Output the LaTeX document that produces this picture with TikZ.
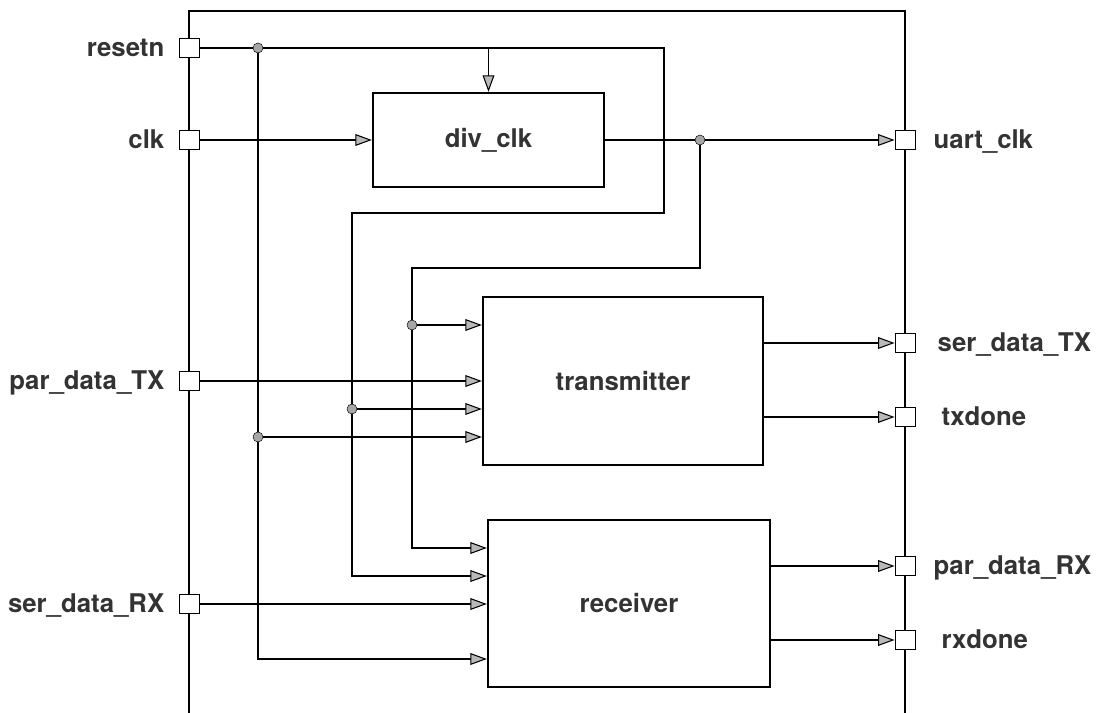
\documentclass[tikz,border=0pt]{standalone}
\usepackage{fontspec}
\setmainfont{TeX Gyre Heros}
\usetikzlibrary{arrows.meta,positioning}

\begin{document}
\begin{tikzpicture}[x=0.03cm,y=-0.03cm,
    >={Triangle[length=14pt,width=10pt,fill=gray!55]},
    port/.style={draw,fill=white,minimum width=0.6cm,minimum height=0.57cm,inner sep=0pt,line width=0.8pt},
    blk/.style={draw,line width=2pt,font=\bfseries\fontsize{22}{25}\selectfont,text=black!80},
    lbl/.style={font=\bfseries\fontsize{22}{25}\selectfont,text=black!80,inner sep=0pt,text height=14.8pt,text depth=0pt},
    sig/.style={line width=0.9pt},
    jn/.style={circle,fill=gray!70,draw=black,inner sep=0pt,minimum size=0.3cm}]
    \useasboundingbox (0,0) rectangle (1099,713);

    % module frame
    \draw[line width=1.2pt] (189,713) -- (189,11) -- (905,11) -- (905,713);

    % ports
    \node[port] (resetn) at (189,48) {};
    \node[port] (clk) at (189,140) {};
    \node[port] (ptx) at (189,381) {};
    \node[port] (srx) at (189,604) {};
    \node[port] (uclk) at (905,140) {};
    \node[port] (stx) at (905,343) {};
    \node[port] (txd) at (905,417) {};
    \node[port] (prx) at (905,566) {};
    \node[port] (rxd) at (905,640) {};
    \foreach \p/\t in {resetn/resetn, clk/clk, ptx/par\_data\_TX, srx/ser\_data\_RX} {
        \node[lbl,left=0.42cm of \p] (\p-l) {\t};
    }
    \foreach \p/\t/\d in {uclk/uart\_clk/0.54, stx/ser\_data\_TX/0.66, txd/txdone/0.78, prx/par\_data\_RX/0.54, rxd/rxdone/0.78} {
        \node[lbl,right=\d cm of \p] (\p-l) {\t};
    }

    % blocks
    \node[blk,minimum width=6.93cm,minimum height=2.82cm] (div) at (488.5,140) {div\_clk};
    \node[blk,minimum width=8.4cm,minimum height=5.04cm] (tx) at (623,381) {transmitter};
    \node[blk,minimum width=8.46cm,minimum height=5.01cm] (rx) at (629,603.5) {receiver};

    % junctions and bends
    \coordinate (j1) at (258,48);
    \coordinate (j2) at (700,140);
    \coordinate (j3) at (412,325);
    \coordinate (j4) at (352,409);
    \coordinate (j5) at (258,437);
    \coordinate (rloop) at (664,213);
    \coordinate (cloop) at (700,268);

    % clock
    \draw[sig,->] (clk) -- (div);
    \draw[sig] (div) -- (j2);
    \draw[sig,->] (j2) -- (uclk);
    \draw[sig] (j2) -- (cloop) -| (j3);
    \draw[sig,->] (j3) -- (tx.west |- j3);
    \draw[sig,->] (j3) |- (rx.west |- 0,548);

    % reset
    \draw[sig] (resetn) -- (j1);
    \draw[sig] (j1) -| (rloop) -| (j4);
    \draw[sig,->] (div.north |- resetn) -- (div);
    \draw[sig,->] (j4) -- (tx.west |- j4);
    \draw[sig,->] (j4) |- (rx.west |- 0,576);
    \draw[sig] (j1) -- (j5);
    \draw[sig,->] (j5) -- (tx.west |- j5);
    \draw[sig,->] (j5) |- (rx.west |- 0,659);

    % data
    \draw[sig,->] (ptx) -- (tx.west |- ptx);
    \draw[sig,->] (srx) -- (rx.west |- srx);
    \draw[sig,->] (tx.east |- stx) -- (stx);
    \draw[sig,->] (tx.east |- txd) -- (txd);
    \draw[sig,->] (rx.east |- prx) -- (prx);
    \draw[sig,->] (rx.east |- rxd) -- (rxd);

    \foreach \j in {j1,j2,j3,j4,j5} {
        \node[jn] (\j-dot) at (\j) {};
    }
\end{tikzpicture}
\end{document}
